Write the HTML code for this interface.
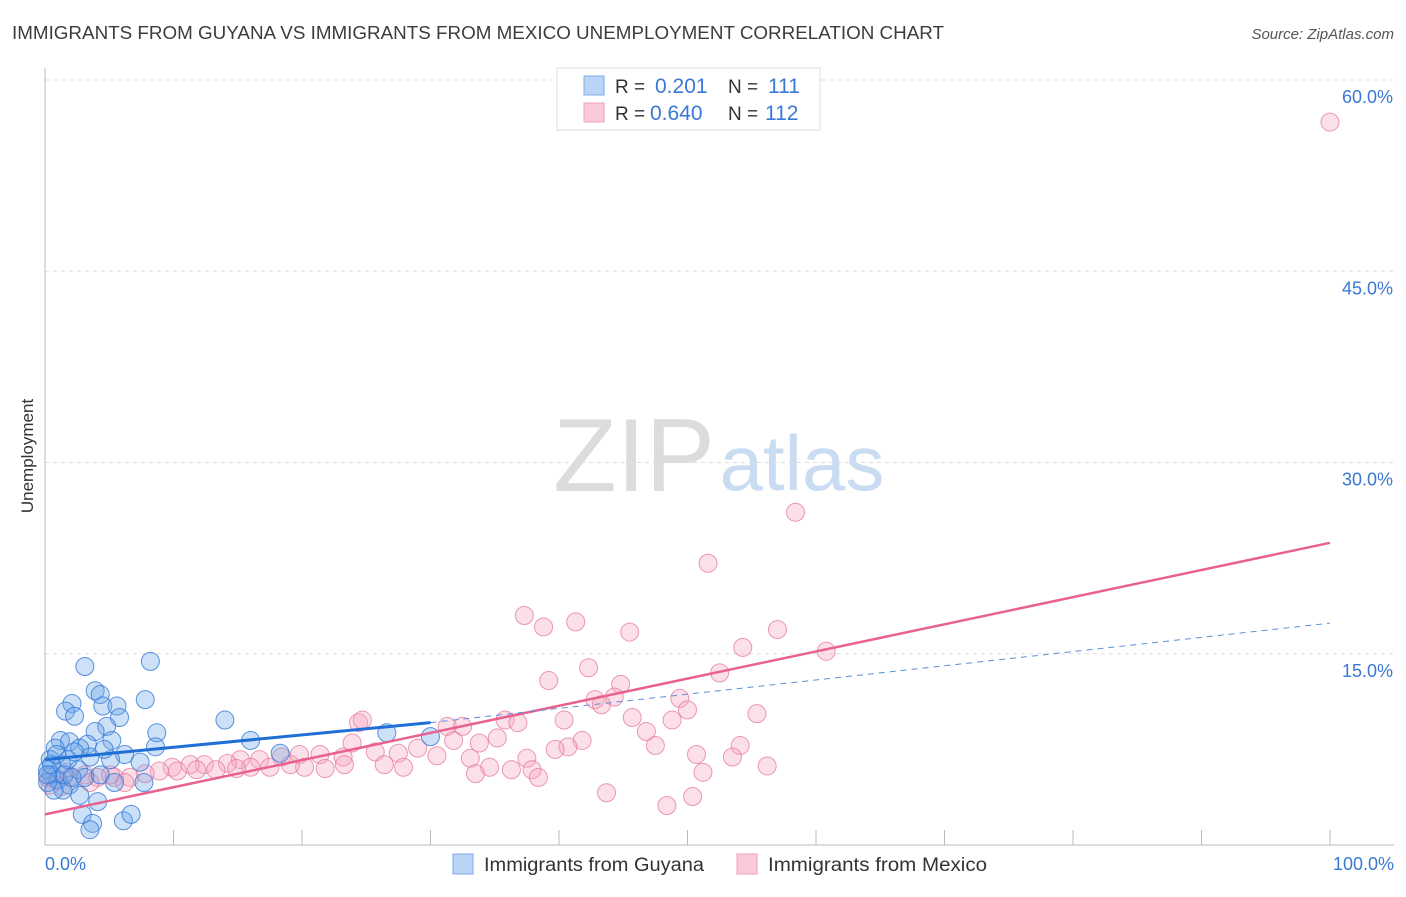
<!DOCTYPE html>
<html><head><meta charset="utf-8"><style>
body{margin:0;background:#fff;font-family:"Liberation Sans",sans-serif;}
svg text{font-family:"Liberation Sans",sans-serif;}
</style></head><body>
<svg id="chart" width="1406" height="892" viewBox="0 0 1406 892">
<text x="12" y="39" font-size="18" fill="#3c3c3c" textLength="932" lengthAdjust="spacingAndGlyphs">IMMIGRANTS FROM GUYANA VS IMMIGRANTS FROM MEXICO UNEMPLOYMENT CORRELATION CHART</text>
<text x="1394" y="39" font-size="15" fill="#555" font-style="italic" text-anchor="end">Source: ZipAtlas.com</text>
<text transform="translate(33,456) rotate(-90)" font-size="17" fill="#333" text-anchor="middle">Unemployment</text>
<g>
<text x="634" y="491" font-size="104" fill="#dcdcdc" font-family="Liberation Serif,serif" text-anchor="middle">ZIP</text>
<text x="802" y="490" font-size="78" fill="#c9dcf2" text-anchor="middle">atlas</text>
</g>
<g id="grid"></g><g id="axes"></g><g id="pts"></g><g id="trends"></g>
<g>
<rect x="557" y="68" width="263" height="62" fill="#fff" stroke="#ddd"/>
<rect x="584" y="76" width="20" height="19" fill="#b9d4f5" stroke="#7aaee8"/>
<rect x="584" y="103" width="20" height="19" fill="#fbcad8" stroke="#eea0b8"/>
<text x="615" y="93" font-size="19" fill="#333">R = </text><text x="655" y="93" font-size="21" fill="#3a78d4">0.201</text>
<text x="728" y="93" font-size="19" fill="#333">N = </text><text x="768" y="93" font-size="21" fill="#3a78d4">111</text>
<text x="615" y="120" font-size="19" fill="#333">R = </text><text x="650" y="120" font-size="21" fill="#3a78d4">0.640</text>
<text x="728" y="120" font-size="19" fill="#333">N = </text><text x="765" y="120" font-size="21" fill="#3a78d4">112</text>
</g>
<g>
<rect x="453" y="854" width="20" height="20" fill="#b9d4f5" stroke="#7aaee8"/>
<text x="484" y="871" font-size="19" fill="#333" textLength="220" lengthAdjust="spacingAndGlyphs">Immigrants from Guyana</text>
<rect x="737" y="854" width="20" height="20" fill="#fbcad8" stroke="#eea0b8"/>
<text x="768" y="871" font-size="19" fill="#333" textLength="219" lengthAdjust="spacingAndGlyphs">Immigrants from Mexico</text>
</g>
</svg>
<script>
const yTicks=[15,30,45,60];
const yTickLabels=["15.0%","30.0%","45.0%","60.0%"];
const xTickVals=[0,10,20,30,40,50,60,70,80,90,100];
const guyanaX=[3.1,8.2,3.9,4.3,7.8,2.1,1.6,2.3,4.5,5.6,5.8,14.0,4.8,8.7,3.9,26.6,30.0,16.0,1.2,1.9,3.3,5.2,8.6,18.3,6.2,0.8,2.7,5.1,7.4,0.4,1.3,2.6,0.5,0.2,1.0,1.9,3.1,4.3,5.4,7.7,1.4,2.7,4.1,2.9,3.7,3.5,6.1,6.7,0.2,0.5,0.9,1.8,2.3,3.5,4.6,1.5,2.1,0.2,0.7];
const guyanaY=[14.0,14.4,12.1,11.8,11.4,11.1,10.5,10.1,10.9,10.9,10.0,9.8,9.3,8.8,8.9,8.8,8.5,8.2,8.2,8.1,7.9,8.2,7.7,7.2,7.1,7.6,7.6,6.7,6.5,6.7,6.3,5.9,5.5,5.9,5.1,4.7,5.3,5.5,4.9,4.9,4.3,3.9,3.4,2.4,1.7,1.2,1.9,2.4,4.9,6.3,7.1,6.7,7.3,6.9,7.5,5.5,5.3,5.5,4.3];
const mexicoX=[100,58.4,51.6,37.3,38.8,41.3,45.5,57.0,54.3,60.8,42.3,52.5,39.2,44.8,42.8,44.3,49.4,50.0,43.3,55.4,45.7,35.8,36.8,40.4,48.8,24.4,24.7,31.3,32.5,46.8,35.2,33.8,31.8,41.8,54.1,47.5,23.9,29.0,40.7,39.7,50.7,53.5,25.7,27.5,30.5,33.1,37.5,23.2,21.4,19.8,18.4,16.7,15.2,14.2,12.4,11.3,9.9,23.3,27.9,26.4,21.8,20.2,19.1,17.5,16.0,14.9,13.3,11.8,10.3,8.9,56.2,34.6,36.3,37.9,33.5,51.2,38.4,7.8,6.6,5.4,4.1,3.1,1.9,0.9,0.4,6.2,43.7,48.4,50.4,1.6,0.2,3.5,5.1,1.3];
const mexicoY=[56.7,26.1,22.1,18.0,17.1,17.5,16.7,16.9,15.5,15.2,13.9,13.5,12.9,12.6,11.4,11.6,11.5,10.6,11.0,10.3,10.0,9.8,9.6,9.8,9.8,9.6,9.8,9.3,9.3,8.9,8.4,8.0,8.2,8.2,7.8,7.8,8.0,7.6,7.7,7.5,7.1,6.9,7.3,7.2,7.0,6.8,6.8,6.9,7.1,7.1,6.9,6.7,6.7,6.4,6.3,6.3,6.1,6.3,6.1,6.3,6.0,6.1,6.3,6.1,6.1,6.0,5.9,5.9,5.8,5.8,6.2,6.1,5.9,5.9,5.6,5.7,5.3,5.6,5.3,5.3,5.3,5.5,5.3,5.1,4.7,4.9,4.1,3.1,3.8,5.7,5.3,4.9,5.5,4.6];
const guyanaTrend=[[0,6.7],[30,9.6]];
const guyanaTrendExt=[[30,9.6],[100,17.4]];
const mexicoTrend=[[0,2.4],[100,23.7]];
const NS="http://www.w3.org/2000/svg";
const X0=45,X1=1330,Y0=845,Y60=80;
const sx=v=>X0+(X1-X0)*v/100;
const sy=v=>Y0-(Y0-Y60)*v/60;
function mk(tag,attrs,parent){const e=document.createElementNS(NS,tag);for(const k in attrs)e.setAttribute(k,attrs[k]);document.getElementById(parent).appendChild(e);return e;}
yTicks.forEach((t,i)=>{
 const l=mk('line',{x1:X0,x2:1394,y1:sy(t),y2:sy(t),stroke:'#ddd','stroke-dasharray':'4,4'},'grid');
 
 
 const tx=mk('text',{x:1393,y:sy(t)+23,'font-size':18,fill:'#3a78d4','text-anchor':'end'},'grid');
 tx.textContent=yTickLabels[i];
 
 
});
const ya=mk('line',{x1:X0,x2:X0,y1:68,y2:Y0,stroke:'#bbb'},'axes');


const xa=mk('line',{x1:X0,x2:1394,y1:Y0,y2:Y0,stroke:'#bbb'},'axes');


xTickVals.forEach(v=>{
 const t=mk('line',{x1:sx(v),x2:sx(v),y1:830,y2:Y0,stroke:'#bbb'},'axes');
 
 
});
const xl0=mk('text',{x:45,y:870,'font-size':18,fill:'#3a78d4'},'axes');xl0.textContent='0.0%';


const xl1=mk('text',{x:1394,y:870,'font-size':18,fill:'#3a78d4','text-anchor':'end'},'axes');xl1.textContent='100.0%';


mexicoX.forEach((x,i)=>{
 const c=mk('circle',{cx:sx(x),cy:sy(mexicoY[i]),r:9,fill:'rgba(246,166,192,0.35)',stroke:'rgba(230,120,155,0.75)','stroke-width':1},'pts');
 
 
});
guyanaX.forEach((x,i)=>{
 const c=mk('circle',{cx:sx(x),cy:sy(guyanaY[i]),r:9,fill:'rgba(110,165,232,0.35)',stroke:'rgba(50,120,215,0.8)','stroke-width':1},'pts');
 
 
});
const line=(p,col,w,dash,name)=>{const l=mk('line',{x1:sx(p[0][0]),y1:sy(p[0][1]),x2:sx(p[1][0]),y2:sy(p[1][1]),stroke:col,'stroke-width':w},'trends');if(dash)l.setAttribute('stroke-dasharray',dash);
 
 };
line(mexicoTrend,'#e8628f',2.5,null,'mexico-trendline');
line(guyanaTrendExt,'#5a8fd8',1,'6,5','guyana-trendline-extension');
line(guyanaTrend,'#1f6fd6',3,null,'guyana-trendline');
</script>
</body></html>
